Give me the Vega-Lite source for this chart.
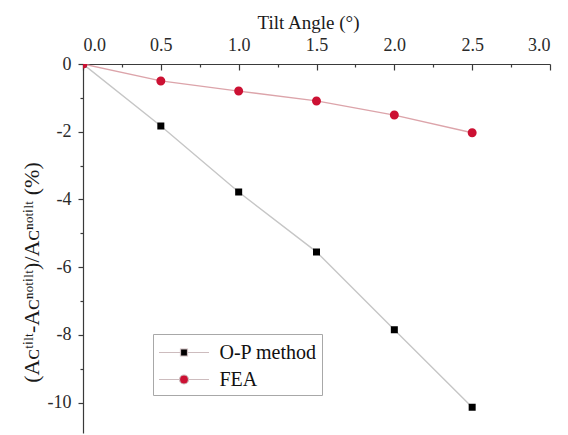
{
  "$schema": "https://vega.github.io/schema/vega-lite/v6.json",
  "width": 467,
  "height": 369,
  "autosize": "none",
  "padding": {"left": 83, "top": 64, "right": 18, "bottom": 2},
  "background": "white",
  "config": {
    "view": {"stroke": null},
    "font": "Liberation Serif",
    "axis": {
      "domainColor": "#3a3a3a",
      "domainWidth": 1.2,
      "tickColor": "#3a3a3a",
      "tickWidth": 1.2,
      "labelOverlap": false,
      "grid": false
    }
  },
  "data": {
    "values": [
      {"method": "O-P method", "angle": 0.0, "change": 0.0},
      {"method": "O-P method", "angle": 0.5, "change": -1.83},
      {"method": "O-P method", "angle": 1.0, "change": -3.78},
      {"method": "O-P method", "angle": 1.5, "change": -5.55},
      {"method": "O-P method", "angle": 2.0, "change": -7.85},
      {"method": "O-P method", "angle": 2.5, "change": -10.14},
      {"method": "FEA", "angle": 0.0, "change": 0.0},
      {"method": "FEA", "angle": 0.5, "change": -0.5},
      {"method": "FEA", "angle": 1.0, "change": -0.8},
      {"method": "FEA", "angle": 1.5, "change": -1.09},
      {"method": "FEA", "angle": 2.0, "change": -1.51},
      {"method": "FEA", "angle": 2.5, "change": -2.03}
    ]
  },
  "encoding": {
    "x": {
      "field": "angle",
      "type": "quantitative",
      "scale": {"domain": [0, 3], "nice": false, "zero": false},
      "axis": {
        "orient": "top",
        "title": "Tilt Angle (°)",
        "titleFont": "Liberation Serif",
        "titleFontSize": 19,
        "titleFontWeight": "normal",
        "titleColor": "#1a1a1a",
        "titleX": 225,
        "titleY": -36,
        "titleAnchor": null,
        "titleAlign": "center",
        "titleBaseline": "alphabetic",
        "values": [0, 0.25, 0.5, 0.75, 1, 1.25, 1.5, 1.75, 2, 2.25, 2.5, 2.75, 3],
        "labelExpr": "datum.value * 2 === round(datum.value * 2) ? format(datum.value, '.1f') : ''",
        "labelFont": "Liberation Serif",
        "labelFontSize": 18,
        "labelColor": "#2a2a2a",
        "tickSize": {"condition": {"test": "datum.value * 2 !== round(datum.value * 2)", "value": -3}, "value": -6},
        "labelPadding": 20,
        "labelBaseline": "alphabetic"
      }
    },
    "y": {
      "field": "change",
      "type": "quantitative",
      "scale": {"domain": [-10.9, 0], "nice": false, "zero": false},
      "axis": {
        "orient": "left",
        "title": "(Aᴄᵗⁱˡᵗ-Aᴄⁿᵒᵗⁱˡᵗ)/Aᴄⁿᵒᵗⁱˡᵗ (%)",
        "titleFont": "Liberation Serif",
        "titleFontSize": 22,
        "titleFontWeight": "normal",
        "titleColor": "#1a1a1a",
        "titleX": -52,
        "titleY": 208,
        "titleAngle": -90,
        "titleAlign": "center",
        "titleBaseline": "middle",
        "values": [0, -1, -2, -3, -4, -5, -6, -7, -8, -9, -10],
        "labelExpr": "datum.value % 2 === 0 ? '' + datum.value : ''",
        "labelFont": "Liberation Serif",
        "labelFontSize": 18,
        "labelColor": "#2a2a2a",
        "tickSize": {"condition": {"test": "datum.value % 2 !== 0", "value": 3}, "value": 5},
        "labelPadding": 7
      }
    }
  },
  "layer": [
    {
      "mark": {"type": "line", "strokeWidth": 1.4, "clip": true},
      "encoding": {
        "detail": {"field": "method", "type": "nominal"},
        "stroke": {"condition": {"test": "datum.method === 'FEA'", "value": "#dca4aa"}, "value": "#c6c6c6"}
      }
    },
    {
      "mark": {"type": "point", "filled": true, "opacity": 1, "clip": true, "size": 625},
      "encoding": {
        "color": {
          "field": "method",
          "type": "nominal",
          "scale": {"domain": ["O-P method", "FEA"], "range": ["#000000", "#cc1133"]},
          "legend": {
            "title": null,
            "orient": "none",
            "legendX": 70,
            "legendY": 270,
            "strokeColor": "#a8a8a8",
            "padding": 5,
            "labelFont": "Liberation Serif",
            "labelFontSize": 20,
            "labelColor": "#111111",
            "labelOffset": 22,
            "symbolSize": 625,
            "symbolOffset": 12.5,
            "symbolStrokeColor": "#cdbcbe",
            "symbolStrokeWidth": 1.2,
            "rowPadding": 3
          }
        },
        "shape": {
          "field": "method",
          "type": "nominal",
          "scale": {
            "domain": ["O-P method", "FEA"],
            "range": [
              "M-2,0H-0.28M0.28,0H2M-0.28,-0.28H0.28V0.28H-0.28Z",
              "M-2,0H-0.36M0.36,0H2M0.36,0A0.36,0.36,0,1,1,-0.36,0A0.36,0.36,0,1,1,0.36,0Z"
            ]
          }
        }
      }
    }
  ]
}
